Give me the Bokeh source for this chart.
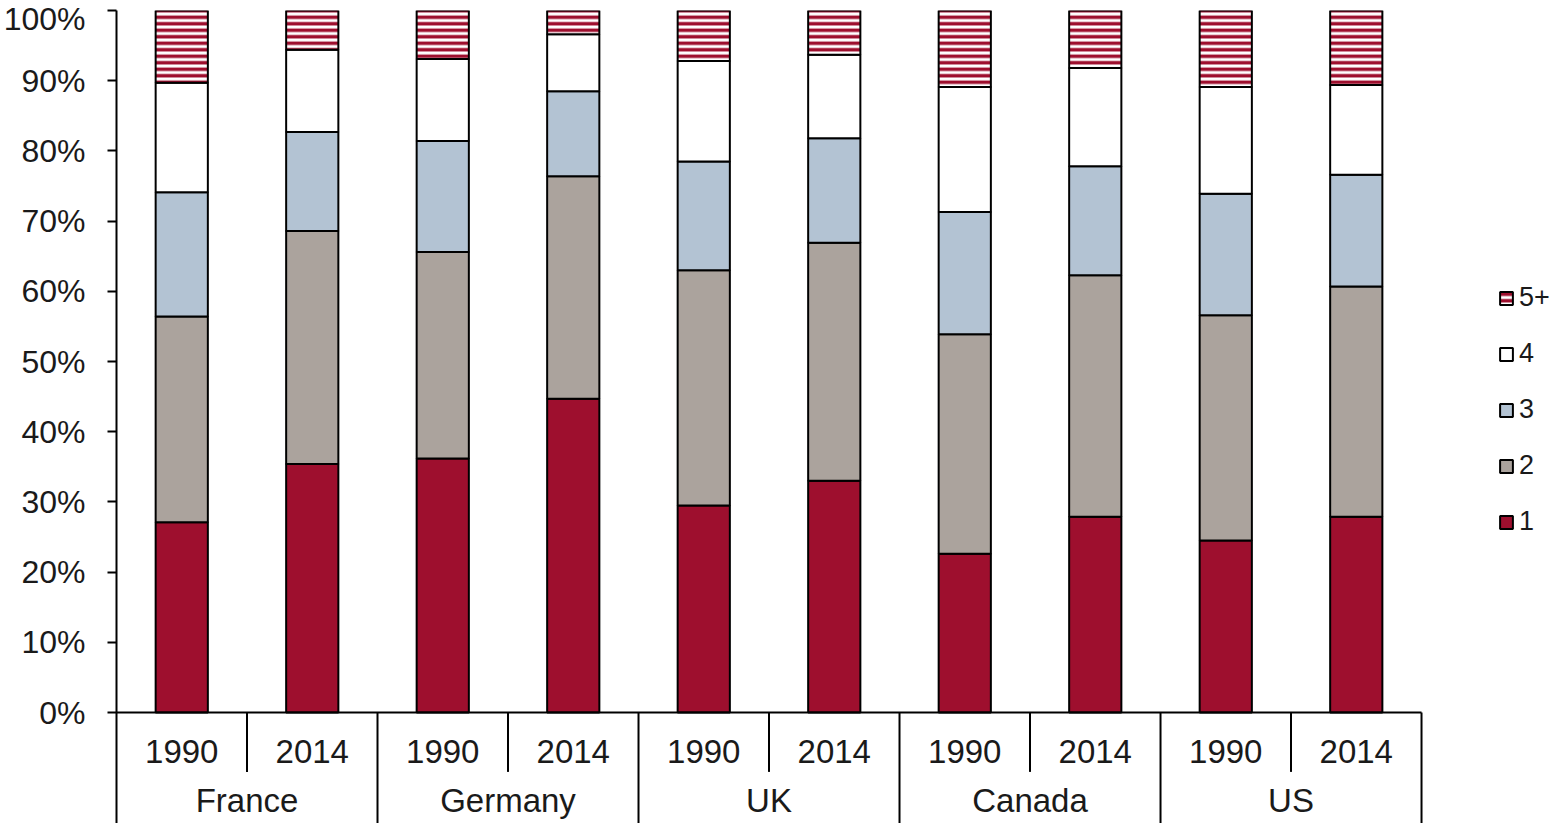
from bokeh.plotting import figure
from bokeh.models import (Range1d, FixedTicker, Legend, LegendItem,
                          ColumnDataSource, PrintfTickFormatter)
from bokeh.core.properties import value
from bokeh.transform import stack
from bokeh.embed import file_html
from bokeh.resources import INLINE

countries = ["France", "Germany", "UK", "Canada", "US"]
years = ["1990", "2014"]
series_names = ["1", "2", "3", "4", "5+"]
size_1 = [27.1, 35.4, 36.2, 44.7, 29.5, 33.0, 22.6, 27.9, 24.5, 27.9]
size_2 = [29.3, 33.2, 29.4, 31.7, 33.5, 33.9, 31.3, 34.4, 32.1, 32.8]
size_3 = [17.7, 14.1, 15.8, 12.1, 15.5, 14.9, 17.4, 15.5, 17.3, 15.9]
size_4 = [15.6, 11.7, 11.7, 8.1, 14.3, 11.9, 17.8, 14.0, 15.2, 12.8]
size_5 = [10.3, 5.6, 6.9, 3.4, 7.2, 6.3, 10.9, 8.2, 10.9, 10.6]
y_ticks = [0, 10, 20, 30, 40, 50, 60, 70, 80, 90, 100]

FONT = "Liberation Sans"
TXT = "#1a1a1a"
n_years = len(years)
labels = [(c, y) for c in countries for y in years]
xpos = [i + 0.5 for i in range(len(labels))]
fields = ["s1", "s2", "s3", "s4", "s5"]
source = ColumnDataSource(dict(x=xpos, s1=size_1, s2=size_2, s3=size_3,
                               s4=size_4, s5=size_5))

p = figure(width=1554, height=823, x_range=Range1d(0, 11.019),
           y_range=Range1d(-15.81, 100),
           output_backend="svg", toolbar_location=None, x_axis_location=None,
           min_border_left=108, min_border_right=0, min_border_top=10,
           min_border_bottom=0)
p.outline_line_color = None
p.xgrid.visible = False
p.ygrid.visible = False
p.background_fill_color = "white"
p.border_fill_color = "white"

yax = p.yaxis[0]
yax.ticker = FixedTicker(ticks=y_ticks)
yax.formatter = PrintfTickFormatter(format="%d%%")
yax.axis_line_width = 2
yax.axis_line_color = "black"
yax.major_tick_line_width = 2
yax.major_tick_line_color = "black"
yax.major_tick_in = 0
yax.major_tick_out = 9
yax.minor_tick_line_color = None
yax.major_label_standoff = 22
yax.major_label_text_font = FONT
yax.major_label_text_font_size = "32px"
yax.major_label_text_color = TXT

colors = ["#9E0F2E", "#ABA39D", "#B3C3D3", "white", "white"]
renderers = []
for i, f in enumerate(fields):
    kw = dict(x="x", width=0.4, source=source, fill_color=colors[i],
              line_color="black", line_width=2)
    kw["bottom"] = 0 if i == 0 else stack(*fields[:i])
    kw["top"] = stack(*fields[:i + 1])
    if f == "s5":
        kw.update(hatch_pattern="horizontal_line", hatch_color="#9E0F2E",
                  hatch_weight=3.5, hatch_scale=6.5)
    renderers.append(p.vbar(**kw))

# category table below the bars
n = len(labels)
p.segment(x0=[0], y0=[0], x1=[n], y1=[0], line_color="black", line_width=2)
group_ends = [(k + 1) * n_years for k in range(len(countries))]
p.segment(x0=group_ends, y0=[0] * len(group_ends), x1=group_ends,
          y1=[-20] * len(group_ends), line_color="black", line_width=2)
year_seps = [k * n_years + 1 for k in range(len(countries))]
p.segment(x0=year_seps, y0=[0] * len(year_seps), x1=year_seps,
          y1=[-8.46] * len(year_seps), line_color="black", line_width=2)
p.text(x=xpos, y=[-5.58] * n, text=[lab[1] for lab in labels],
       text_align="center", text_baseline="middle", text_font=value(FONT),
       text_font_size="33px", text_color=TXT)
group_mid = [k * n_years + n_years / 2 for k in range(len(countries))]
p.text(x=group_mid, y=[-12.6] * len(countries), text=countries,
       text_align="center", text_baseline="middle",
       text_font=value(FONT), text_font_size="33px", text_color=TXT)

items = [LegendItem(label=series_names[i], renderers=[renderers[i]])
         for i in range(4, -1, -1)]
legend = Legend(items=items, location=(1382, 286), orientation="vertical",
                glyph_width=16, glyph_height=16, label_height=24, spacing=25,
                padding=0, margin=0, label_standoff=5,
                label_text_font=FONT, label_text_font_size="27px",
                label_text_color=TXT, border_line_color=None,
                background_fill_alpha=0)
p.add_layout(legend)

open("out.html", "w").write(file_html(p, INLINE))
